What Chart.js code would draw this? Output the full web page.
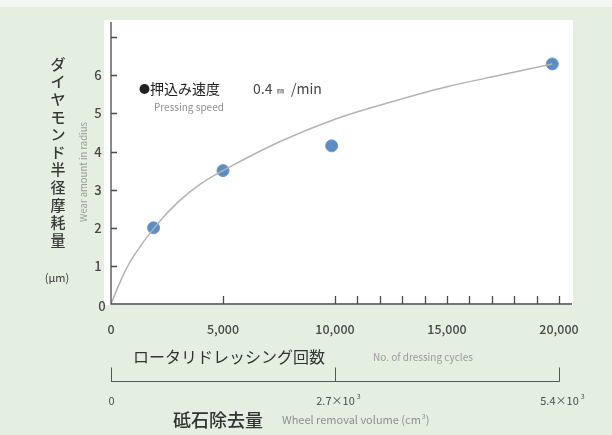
<!DOCTYPE html>
<html>
<head>
<meta charset="utf-8">
<script src="https://cdn.jsdelivr.net/npm/chart.js@4/dist/chart.umd.min.js"></script>
<style>
  html, body { margin: 0; padding: 0; background: #e4efe1; }
  #wrap { width: 612px; height: 435px; }
</style>
</head>
<body>
<div id="wrap"><canvas id="grafico"></canvas></div>
<script>
// measured points (dressing cycles, wear amount um)
const cycles = [1900, 5000, 9850, 19700];
const wear = [2.0, 3.5, 4.15, 6.3];

// trend curve
const curveCycles = [0, 500, 1000, 2000, 3000, 4000, 5000, 7500, 10000, 12500, 15000, 17500, 19700];
const curveWear = [0, 0.7, 1.25, 2.05, 2.68, 3.15, 3.5, 4.25, 4.85, 5.3, 5.7, 6.02, 6.3];

const xTickValues = [5000, 10000, 11000, 12000, 13000, 14000, 15000, 16000, 17000, 18000, 19000, 20000];
const xLabelValues = [0, 5000, 10000, 15000, 20000];
const xLabels = ['0', '5,000', '10,000', '15,000', '20,000'];
const yTickValues = [1, 2, 3, 4, 5, 6, 7];
const yLabelValues = [0, 1, 2, 3, 4, 5, 6];

// wheel removal volume (cm3) secondary axis
const removalValues = [0, 2700, 5400];
const removalLabels = [['0', ''], ['2.7×10', '3'], ['5.4×10', '3']];
const removalMaxCycles = 20000;

const JP = '"Noto Sans CJK JP", "Noto Sans", sans-serif';

const ejes = {
  id: 'ejes',
  beforeDraw(chart) {
    const c = chart.ctx;
    const a = chart.chartArea;
    c.save();
    c.fillStyle = '#e4efe1';
    c.fillRect(0, 0, chart.width, chart.height);
    c.fillStyle = '#f3f7f2';
    c.fillRect(0, 0, chart.width, 7);
    c.fillStyle = '#ffffff';
    c.fillRect(104, a.top - 2, a.right + 1 - 104, a.bottom - a.top + 3);
    c.restore();
  },
  afterDraw(chart) {
    const c = chart.ctx;
    const a = chart.chartArea;
    const x = chart.scales.x;
    const y = chart.scales.y;
    c.save();
    c.strokeStyle = '#4a4a4a';
    c.lineWidth = 1.3;
    // axis lines
    c.beginPath();
    c.moveTo(a.left, a.top);
    c.lineTo(a.left, a.bottom);
    c.lineTo(a.right, a.bottom);
    c.stroke();
    // inward ticks
    c.beginPath();
    xTickValues.forEach(v => {
      const px = Math.round(x.getPixelForValue(v)) + 0.5;
      c.moveTo(px, a.bottom);
      c.lineTo(px, a.bottom - 8);
    });
    yTickValues.forEach(v => {
      const py = Math.round(y.getPixelForValue(v)) + 0.5;
      c.moveTo(a.left, py);
      c.lineTo(a.left + 6, py);
    });
    c.stroke();

    // tick labels
    c.fillStyle = '#484848';
    c.font = '500 12.5px ' + JP;
    c.textAlign = 'center';
    c.textBaseline = 'middle';
    xLabelValues.forEach((v, i) => {
      c.fillText(xLabels[i], x.getPixelForValue(v), a.bottom + 25);
    });
    c.font = '500 13px ' + JP;
    yLabelValues.forEach(v => {
      const py = y.getPixelForValue(v);
      c.fillText(String(v), v === 0 ? 102 : 98, v === 0 ? py + 2 : py);
    });

    // y title (vertical japanese)
    c.fillStyle = '#383838';
    c.font = '500 15px ' + JP;
    const titulo = 'ダイヤモンド半径摩耗量';
    [...titulo].forEach((ch, i) => {
      c.fillText(ch, 58, 64 + i * 17.6);
    });
    c.font = '11px ' + JP;
    c.fillText('(μm)', 57, 278);
    c.save();
    c.translate(83, 172);
    c.rotate(-Math.PI / 2);
    c.fillStyle = '#9a9a9a';
    c.font = '9.5px ' + JP;
    c.fillText('Wear amount in radius', 0, 0);
    c.restore();

    // legend text
    c.textAlign = 'left';
    c.fillStyle = '#222';
    c.font = '11px ' + JP;
    c.fillText('●', 139, 89);
    c.font = '14px ' + JP;
    c.fillText('押込み速度', 150, 89);
    c.fillStyle = '#444';
    c.fillText('0.4', 253, 89);
    c.font = '7px ' + JP;
    c.fillText('㎜', 277, 90);
    c.font = '14px ' + JP;
    c.fillText('/min', 291, 89);
    c.fillStyle = '#8f8f8f';
    c.font = '10px ' + JP;
    c.fillText('Pressing speed', 154, 107);

    // x title
    c.fillStyle = '#333';
    c.font = '16px ' + JP;
    c.fillText('ロータリドレッシング回数', 133, 357);
    c.fillStyle = '#9a9a9a';
    c.font = '10px ' + JP;
    c.fillText('No. of dressing cycles', 373, 357);

    // secondary axis: wheel removal volume
    const lineY = 381.5;
    const pix = removalValues.map(v => Math.round(x.getPixelForValue(v / removalValues[2] * removalMaxCycles)) + 0.5);
    c.strokeStyle = '#555';
    c.lineWidth = 1;
    c.beginPath();
    c.moveTo(a.left, lineY);
    c.lineTo(pix[2], lineY);
    pix.forEach(px => {
      c.moveTo(px, lineY);
      c.lineTo(px, lineY - 14);
    });
    c.stroke();
    c.fillStyle = '#4d4d4d';
    c.textAlign = 'center';
    removalLabels.forEach((lab, i) => {
      c.font = '11px ' + JP;
      const w = c.measureText(lab[0]).width;
      c.fillText(lab[0], pix[i], 401);
      if (lab[1]) {
        c.font = '7px ' + JP;
        c.fillText(lab[1], pix[i] + w / 2 + 4, 396);
      }
    });
    c.textAlign = 'left';
    c.fillStyle = '#333';
    c.font = '500 18px ' + JP;
    c.fillText('砥石除去量', 173, 420);
    c.fillStyle = '#8f8f8f';
    c.font = '11px ' + JP;
    c.fillText('Wheel removal volume (cm', 282, 420);
    const wv = c.measureText('Wheel removal volume (cm').width;
    c.font = '7px ' + JP;
    c.fillText('3', 282 + wv + 1, 416);
    c.font = '11px ' + JP;
    c.fillText(')', 282 + wv + 5, 420);
    c.restore();
  }
};

new Chart(document.getElementById('grafico'), {
  type: 'scatter',
  data: {
    datasets: [
      {
        type: 'line',
        data: curveCycles.map((v, i) => ({ x: v, y: curveWear[i] })),
        borderColor: '#b3b3b3',
        borderWidth: 1.5,
        pointRadius: 0,
        fill: false,
        tension: 0.4
      },
      {
        data: cycles.map((v, i) => ({ x: v, y: wear[i] })),
        backgroundColor: '#5b8dc2',
        borderColor: '#6e9bcb',
        borderWidth: 1,
        pointRadius: 6
      }
    ]
  },
  options: {
    responsive: true,
    maintainAspectRatio: false,
    animation: false,
    layout: { padding: { left: 111, right: 40, top: 22, bottom: 131 } },
    scales: {
      x: { type: 'linear', min: 0, max: 20580, display: false },
      y: { type: 'linear', min: 0, max: 7.4, display: false }
    },
    plugins: { legend: { display: false }, tooltip: { enabled: false } }
  },
  plugins: [ejes]
});
</script>
</body>
</html>
